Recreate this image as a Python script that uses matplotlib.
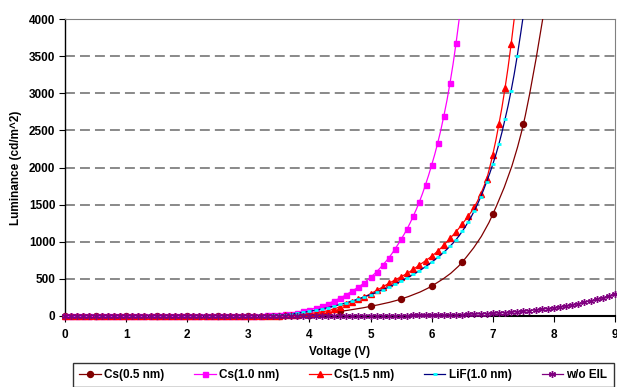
import numpy as np
import matplotlib
matplotlib.use('Agg')
import matplotlib.pyplot as plt
from matplotlib.path import Path
from matplotlib.patches import PathPatch
from matplotlib.lines import Line2D

plt.rcParams['font.family'] = ['Liberation Sans', 'DejaVu Sans']
plt.rcParams['font.weight'] = 'bold'

# data (voltage in V, luminance in cd/m^2)
v_cs05 = np.arange(0, 8.01, 0.5)
lum_cs05 = [0, 0, 0, 0, 0, 0, 0, 2, 15, 62, 130, 229, 404, 727, 1370, 2582, 4900]

v_cs10 = np.round(np.arange(0, 6.51, 0.1), 1)
lum_cs10 = [0] * 30 + [2, 3, 5, 8, 12, 17, 24, 33, 44, 62,
                       84, 108, 135, 166, 202, 242, 287, 337, 390, 449,
                       521, 597, 687, 785, 902, 1033, 1176, 1347, 1540, 1770,
                       2034, 2334, 2698, 3138, 3681, 4330]

v_cs15 = np.round(np.arange(0, 7.41, 0.1), 1)
lum_cs15 = [0] * 32 + [1, 2, 4, 6, 9, 13, 18, 25,
                       33, 43, 56, 71, 96, 125, 160, 193, 225, 260,
                       300, 345, 392, 440, 485, 530, 575, 629, 687, 745,
                       805, 875, 956, 1046, 1136, 1239, 1350, 1470, 1640, 1850,
                       2175, 2582, 3067, 3660, 4350]

v_lif = np.round(np.arange(0, 7.51, 0.1), 1)
lum_lif = [0] * 31 + [1, 2, 4, 8, 13, 20, 28, 38, 50,
                      63, 78, 95, 113, 133, 155, 178, 203, 230, 258,
                      288, 320, 355, 390, 430, 470, 515, 560, 610, 665,
                      725, 790, 860, 940, 1030, 1140, 1270, 1420, 1600, 1809,
                      2043, 2316, 2649, 3034, 3502, 4050]

v_noeil = np.round(np.arange(0, 9.01, 0.1), 1)
lum_noeil = [0] * 43 + [1, 1, 1, 1, 1, 2, 2,
                        2, 2, 3, 3, 4, 5, 6, 7, 8, 9,
                        10, 12, 14, 16, 18, 20, 23, 26, 29, 33,
                        37, 42, 47, 53, 59, 66, 74, 82, 91, 101,
                        112, 124, 137, 151, 167, 185, 204, 224, 246, 270,
                        295]

labels = ['Cs(0.5 nm)', 'Cs(1.0 nm)', 'Cs(1.5 nm)', 'LiF(1.0 nm)', 'w/o EIL']


def smooth_path(x, y):
    # Excel-like smoothed line (Catmull-Rom as cubic Bezier)
    x = np.asarray(x, float)
    y = np.asarray(y, float)
    pts = np.column_stack([x, y])
    verts = [pts[0]]
    codes = [Path.MOVETO]
    n = len(pts)
    for i in range(n - 1):
        p0 = pts[i - 1] if i > 0 else pts[i]
        p1 = pts[i]
        p2 = pts[i + 1]
        p3 = pts[i + 2] if i + 2 < n else pts[i + 1]
        verts += [p1 + (p2 - p0) / 6, p2 - (p3 - p1) / 6, p2]
        codes += [Path.CURVE4] * 3
    return Path(verts, codes)


fig = plt.figure(figsize=(6.17, 3.87), dpi=100)
ax = fig.add_axes([65 / 617, 71 / 387, 550 / 617, 297 / 387])

series = [
    (v_cs05, lum_cs05, dict(color='#800000', marker='o', ms=4.3, mfc='#800000', mec='#800000')),
    (v_cs10, lum_cs10, dict(color='#FF00FF', marker='s', ms=3.6, mfc='#FF00FF', mec='#FF00FF')),
    (v_cs15, lum_cs15, dict(color='#FF0000', marker='^', ms=4.5, mfc='#FF0000', mec='#FF0000')),
    (v_lif, lum_lif, dict(color='#000080', marker='_', ms=3.5, mfc='#00FFFF', mec='#00FFFF', mew=2)),
    (v_noeil, lum_noeil, dict(color='#800080', marker=(6, 2, 0), ms=5, mfc='#800080', mec='#800080', mew=1.0)),
]

handles = []
for i, (x, y, st) in enumerate(series):
    z = 3 + i
    patch = PathPatch(smooth_path(x, y), fill=False, edgecolor=st['color'], lw=0.9, zorder=z)
    ax.add_patch(patch)
    x = np.asarray(x)
    y = np.asarray(y)
    keep = y <= 4000
    mk = {k: v for k, v in st.items() if k != 'color'}
    ax.plot(x[keep], y[keep], ls='none', clip_on=False, zorder=z + 0.5, **mk)
    handles.append(Line2D([], [], color=st['color'], lw=0.9, **mk))

ax.set_xlim(0, 9)
ax.set_ylim(0, 4000)
ax.set_xticks(range(0, 10))
ax.set_yticks(range(0, 4001, 500))
ax.yaxis.grid(True, color='#808080', ls=(0, (5.5, 2.8)), lw=1.3)
ax.set_axisbelow(True)
for s in ['top', 'right']:
    ax.spines[s].set_color('#808080')
    ax.spines[s].set_linewidth(0.8)
ax.spines['left'].set_linewidth(1.0)
ax.spines['bottom'].set_linewidth(1.5)
ax.tick_params(axis='both', direction='out', length=4, width=0.8, labelsize=8.5, pad=3)
ax.tick_params(axis='x', pad=5)
ax.set_xlabel('Voltage (V)', fontsize=8.5, fontweight='bold', labelpad=4)
ax.set_ylabel('Luminance (cd/m^2)', fontsize=8.5, fontweight='bold', labelpad=5)

leg = fig.legend(handles, labels, loc='upper left', ncol=5, mode='expand',
                 bbox_to_anchor=(73 / 617, 0, 541 / 617, 24.5 / 387),
                 fontsize=8.5, frameon=True, fancybox=False, handlelength=1.8,
                 handletextpad=0.3, borderpad=0.55, borderaxespad=0)
leg.get_frame().set_edgecolor('black')
leg.get_frame().set_linewidth(1.0)

fig.savefig('out.png', dpi=100)
